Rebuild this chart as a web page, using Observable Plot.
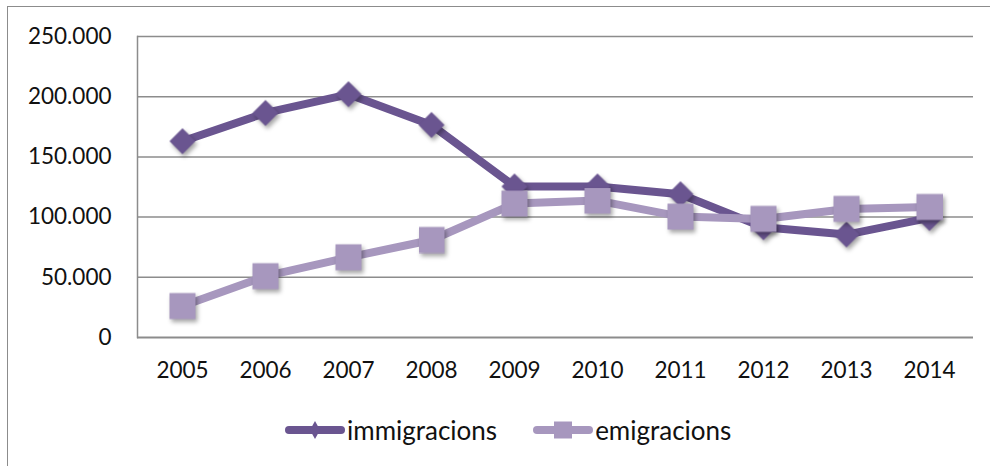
<!DOCTYPE html>
<html><head><meta charset="utf-8">
<script src="https://cdn.jsdelivr.net/npm/d3@7"></script>
<script src="https://cdn.jsdelivr.net/npm/@observablehq/plot@0.6"></script>
<style>
body{margin:0;background:#fff;}
#wrap{position:relative;width:990px;height:466px;overflow:hidden;font-family:Lato,sans-serif;}
#frame{position:absolute;left:7px;top:6px;width:1100px;height:600px;border:1.5px solid #8c8c8c;box-sizing:border-box;}
#chart{position:absolute;left:0;top:0;}
#legend{position:absolute;left:0;top:400px;width:990px;height:60px;display:flex;align-items:center;padding-left:285px;box-sizing:border-box;font-size:26px;color:#111;}
.item{display:flex;align-items:center;margin-right:36px;}
.item svg{margin-right:2px;}
.shadow{filter:drop-shadow(2px 3px 2px rgba(0,0,0,0.35));}
</style></head><body>
<div id="wrap"><div id="frame"></div><div id="chart"></div><div id="legend"></div></div>
<script>
const years = ["2005","2006","2007","2008","2009","2010","2011","2012","2013","2014"];
const immigracions = [163000,186500,202000,176500,125500,125500,119000,91500,85500,99300];
const emigracions = [26100,50900,66600,81000,111200,113700,100400,98500,106800,108400];
const seriesNames = ["immigracions","emigracions"];
const seriesColors = ["#6a5590","#a797be"];
const yTicks = [0,50000,100000,150000,200000,250000];

const diamondSym = {draw(ctx, size){const r=Math.sqrt(size/Math.PI);ctx.moveTo(0,-r);ctx.lineTo(r,0);ctx.lineTo(0,r);ctx.lineTo(-r,0);ctx.closePath();}};
const squareSym = {draw(ctx, size){const r=Math.sqrt(size/Math.PI);ctx.rect(-r,-r,2*r,2*r);}};
const symbols = [diamondSym, squareSym];

const series = [immigracions, emigracions].map((vals,i)=>years.map((y,j)=>({year:y,value:vals[j],name:seriesNames[i]})));
const fmt = v => d3.format(",")(v).replace(/,/g,".");

const marks = [
  Plot.ruleY(yTicks.slice(1), {stroke:"#8c8c8c", strokeWidth:1.5, strokeOpacity:1}),
  Plot.ruleY([0], {stroke:"#8c8c8c", strokeWidth:2, strokeOpacity:1}),
  Plot.frame({anchor:"left", stroke:"#8c8c8c", strokeWidth:1.5}),
  Plot.axisY({ticks:yTicks, tickFormat:fmt, tickSize:0, tickPadding:26, fontSize:22.5, label:null}),
  Plot.axisX({tickSize:0, tickPadding:25, fontSize:22.5, label:null})
];
series.forEach((s,i)=>{
  marks.push(Plot.line(s,{x:"year",y:"value",stroke:seriesColors[i],strokeWidth:8,strokeLinejoin:"round"}));
  marks.push(Plot.dot(s,{x:"year",y:"value",symbol:()=>symbols[i],r:13,fill:seriesColors[i],stroke:"none",className:"shadow"}));
});

const chart = Plot.plot({
  width:990, height:400,
  marginLeft:137, marginRight:17, marginTop:36, marginBottom:63,
  style:{fontFamily:"Lato, sans-serif", color:"#111", background:"transparent", overflow:"visible"},
  x:{type:"point", domain:years, padding:0.5},
  y:{domain:[0,250000]},
  symbol:{type:"identity"},
  marks
});
document.getElementById("chart").append(chart);

const legend = document.getElementById("legend");
seriesNames.forEach((n,i)=>{
  const item = document.createElement("div"); item.className="item";
  const ns="http://www.w3.org/2000/svg";
  const svg=document.createElementNS(ns,"svg"); svg.setAttribute("width",60); svg.setAttribute("height",20);
  const line=document.createElementNS(ns,"line");
  line.setAttribute("x1",4);line.setAttribute("x2",56);line.setAttribute("y1",10);line.setAttribute("y2",10);
  line.setAttribute("stroke",seriesColors[i]);line.setAttribute("stroke-width",8);line.setAttribute("stroke-linecap","round");
  svg.append(line);
  const m=document.createElementNS(ns,"path");
  m.setAttribute("d", i===0 ? "M30,1L35,10L30,19L25,10Z" : "M21,1.5h18v17h-18Z");
  m.setAttribute("fill",seriesColors[i]);
  svg.append(m);
  const t=document.createElement("span"); t.textContent=n;
  item.append(svg,t); legend.append(item);
});
</script>
</body></html>
